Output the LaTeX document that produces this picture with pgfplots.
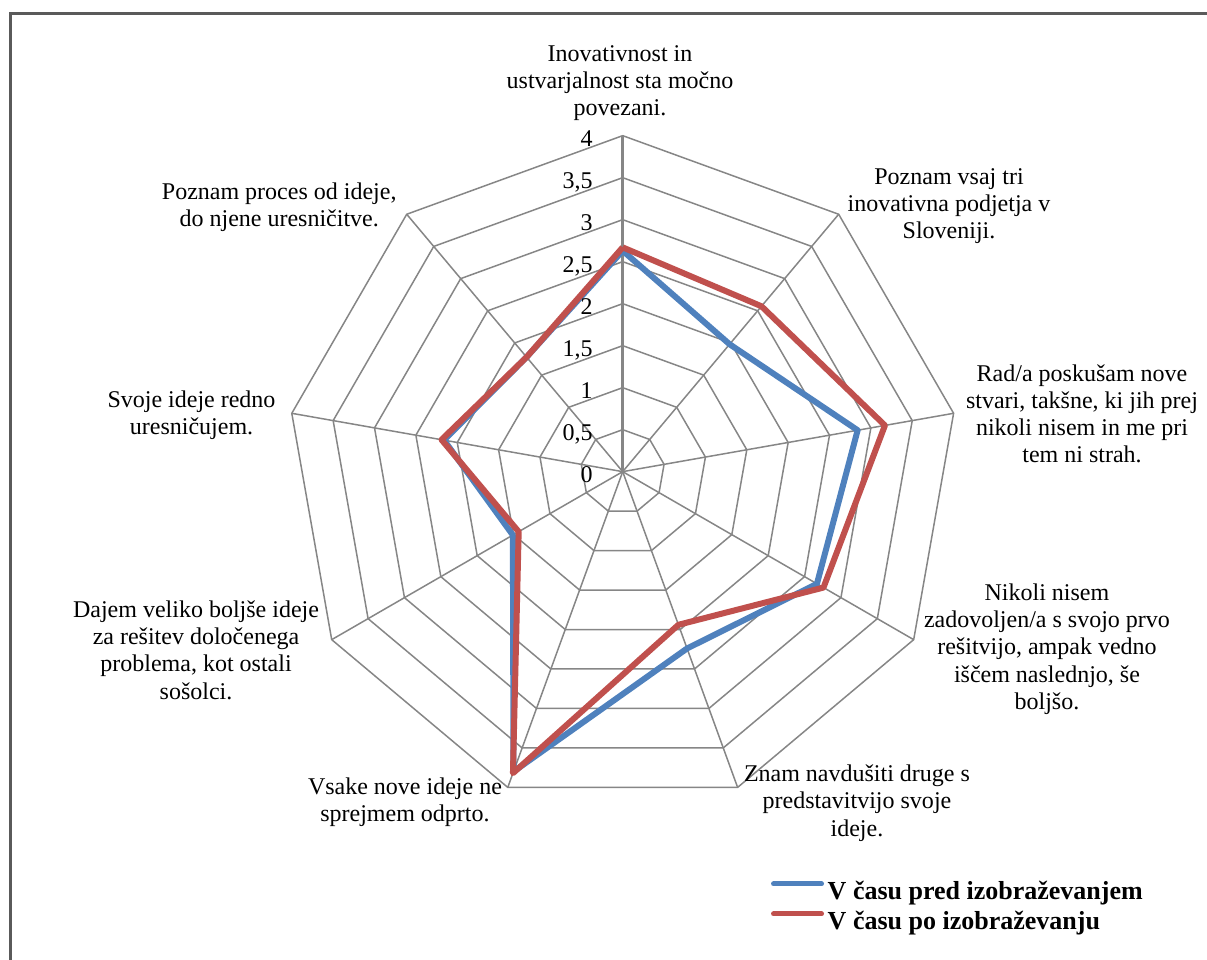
\documentclass[border=0pt]{standalone}
\usepackage{pgfplots}
\pgfplotsset{compat=1.18}
\usepackage{fontspec}
\setmainfont{Liberation Serif}
\definecolor{serblue}{HTML}{4F81BD}
\definecolor{serred}{HTML}{C0504D}
\definecolor{gridgray}{HTML}{868686}
\definecolor{framegray}{HTML}{5A5A5A}
\begin{document}
\begin{tikzpicture}
\begin{axis}[
  x=42pt, y=42pt,
  xmin=-7.413, xmax=6.956, ymin=-5.813, ymax=5.615,
  hide axis, clip=false,
  legend style={at={(0.6388,0.0833)}, anchor=north west, draw=none, fill=none,
    inner sep=0pt, outer sep=0pt, row sep=0pt,
    font=\fontsize{13}{15}\selectfont\bfseries,
    nodes={inner sep=0pt, text height=10pt, text depth=5pt}},
  legend cell align=left,
  legend image code/.code={\draw[#1, line width=2.5pt, line cap=round] (0pt,5.5pt) -- (24pt,5.5pt); \path (25.6pt,5.5pt);},
]
% rings
\pgfplotsinvokeforeach{0.5,1,1.5,2,2.5,3,3.5,4}{
  \addplot[gridgray, line width=0.75pt, forget plot, data cs=polar, mark=none]
    coordinates {(90,#1) (50,#1) (10,#1) (-30,#1) (-70,#1) (-110,#1) (-150,#1) (-190,#1) (-230,#1) (90,#1)};
}
% spokes
\pgfplotsinvokeforeach{50,10,-30,-70,-110,-150,-190,-230}{
  \addplot[gridgray, line width=0.75pt, forget plot, data cs=polar, mark=none]
    coordinates {(#1,0) (#1,4)};
}
\addplot[gridgray, line width=1.3pt, forget plot, data cs=polar, mark=none]
  coordinates {(90,0) (90,4)};
% data
\addplot[serblue, line width=3pt, line join=round, data cs=polar, mark=none]
  coordinates {(90,2.63) (50,1.98) (10,2.84) (-30,2.67) (-70,2.24) (-110,3.80) (-150,1.51) (-190,2.16) (-230,1.78) (90,2.63)};
\addlegendentry{V času pred izobraževanjem}
\addplot[serred, line width=3pt, line join=round, data cs=polar, mark=none]
  coordinates {(90,2.67) (50,2.57) (10,3.17) (-30,2.76) (-70,1.94) (-110,3.82) (-150,1.43) (-190,2.19) (-230,1.78) (90,2.67)};
\addlegendentry{V času po izobraževanju}
% value labels
\begin{scope}[every node/.style={anchor=base east, inner sep=0pt, font=\fontsize{12}{13.6}\selectfont}]
\node at (axis cs:-0.354,-0.13) {0};
\node at (axis cs:-0.354,0.37) {0,5};
\node at (axis cs:-0.354,0.87) {1};
\node at (axis cs:-0.354,1.37) {1,5};
\node at (axis cs:-0.354,1.87) {2};
\node at (axis cs:-0.354,2.37) {2,5};
\node at (axis cs:-0.354,2.87) {3};
\node at (axis cs:-0.354,3.37) {3,5};
\node at (axis cs:-0.354,3.87) {4};
\end{scope}
% category labels
\begin{scope}[every node/.style={align=center, inner sep=0pt, font=\fontsize{12}{13.6}\selectfont}]
\node at (axis cs:-0.032,4.626) {Inovativnost in\\ustvarjalnost sta močno\\povezani.};
\node at (axis cs:3.885,3.163) {Poznam vsaj tri\\inovativna podjetja v\\Sloveniji.};
\node at (axis cs:5.468,0.687) {Rad/a poskušam nove\\stvari, takšne, ki jih prej\\nikoli nisem in me pri\\tem ni strah.};
\node at (axis cs:5.051,-2.113) {Nikoli nisem\\zadovoljen/a s svojo prvo\\rešitvijo, ampak vedno\\iščem naslednjo, še\\boljšo.};
\node at (axis cs:2.789,-3.946) {Znam navdušiti druge s\\predstavitvijo svoje\\ideje.};
\node at (axis cs:-2.592,-3.932) {Vsake nove ideje ne\\sprejmem odprto.};
\node at (axis cs:-5.079,-2.124) {Dajem veliko boljše ideje\\za rešitev določenega\\problema, kot ostali\\sošolci.};
\node at (axis cs:-5.133,0.675) {Svoje ideje redno\\uresničujem.};
\node at (axis cs:-4.089,3.151) {Poznam proces od ideje,\\do njene uresničitve.};
\end{scope}
% chart frame
\draw[framegray, line width=1.25pt] (axis cs:-7.29,-5.813) -- (axis cs:-7.29,5.457) -- (axis cs:6.956,5.457);
\coordinate (bl) at (axis cs:-7.413,-5.813);
\coordinate (tr) at (axis cs:6.956,5.615);
\end{axis}
\pgfresetboundingbox
\useasboundingbox (bl) rectangle (tr);
\end{tikzpicture}
\end{document}
